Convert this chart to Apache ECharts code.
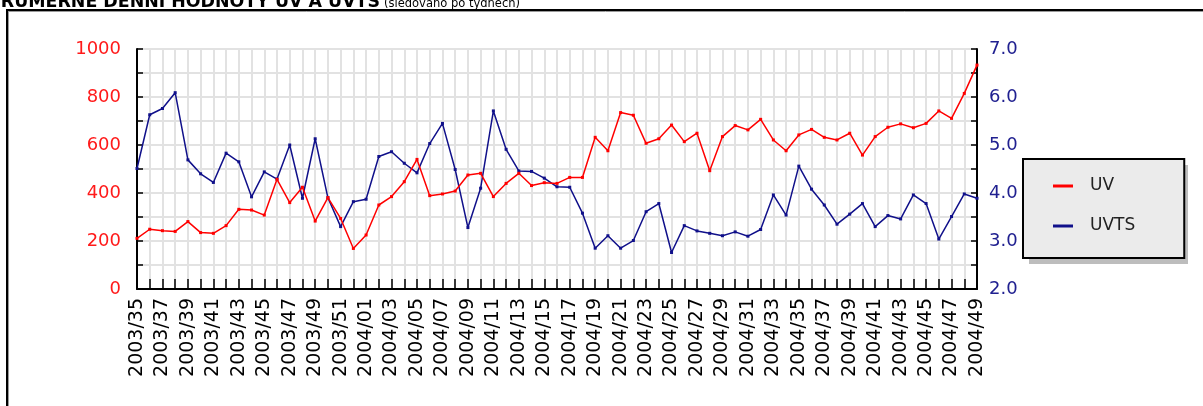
<!DOCTYPE html>
<html>
<head>
<meta charset="utf-8">
<script src="https://cdn.jsdelivr.net/npm/echarts@6/dist/echarts.min.js"></script>
<style>
  html, body { margin: 0; padding: 0; background: #fff; }
  #chart { width: 1203px; height: 406px; }
</style>
</head>
<body>
<div id="chart"></div>
<script>
// tydny (kategorie osy x)
var weeks = [
    '2003/35', '2003/36', '2003/37', '2003/38', '2003/39', '2003/40', '2003/41', '2003/42', '2003/43',
    '2003/44', '2003/45', '2003/46', '2003/47', '2003/48', '2003/49', '2003/50', '2003/51', '2003/52',
    '2004/01', '2004/02', '2004/03', '2004/04', '2004/05', '2004/06', '2004/07', '2004/08', '2004/09',
    '2004/10', '2004/11', '2004/12', '2004/13', '2004/14', '2004/15', '2004/16', '2004/17', '2004/18',
    '2004/19', '2004/20', '2004/21', '2004/22', '2004/23', '2004/24', '2004/25', '2004/26', '2004/27',
    '2004/28', '2004/29', '2004/30', '2004/31', '2004/32', '2004/33', '2004/34', '2004/35', '2004/36',
    '2004/37', '2004/38', '2004/39', '2004/40', '2004/41', '2004/42', '2004/43', '2004/44', '2004/45',
    '2004/46', '2004/47', '2004/48', '2004/49'
];

// UV - leva osa
var uv = [
    211, 249, 243, 240, 281, 235, 232, 264, 332, 329, 308, 457, 360, 424, 283, 381, 294, 169,
    225, 350, 385, 447, 540, 389, 396, 408, 475, 482, 385, 440, 482, 431, 443, 440, 465, 465,
    632, 576, 735, 724, 607, 626, 683, 614, 649, 493, 635, 681, 663, 707, 621, 576, 642, 665,
    632, 621, 649, 558, 635, 674, 688, 672, 690, 742, 711, 815, 933
];

// UVTS - prava osa
var uvts = [
    4.51, 5.63, 5.76, 6.09, 4.69, 4.40, 4.22, 4.83, 4.65, 3.92, 4.44, 4.29, 5.00, 3.89, 5.13, 3.90, 3.30, 3.82,
    3.87, 4.76, 4.86, 4.62, 4.42, 5.03, 5.45, 4.49, 3.28, 4.10, 5.71, 4.91, 4.46, 4.45, 4.31, 4.13, 4.12, 3.58,
    2.85, 3.11, 2.85, 3.01, 3.61, 3.78, 2.76, 3.32, 3.21, 3.16, 3.11, 3.19, 3.10, 3.24, 3.96, 3.54, 4.56, 4.08,
    3.75, 3.35, 3.56, 3.78, 3.30, 3.53, 3.46, 3.96, 3.78, 3.04, 3.51, 3.98, 3.89
];

var seriesNames = ['UV', 'UVTS'];
var FONT = 'DejaVu Sans';
var gridColor = '#e2e2e2';

var chart = echarts.init(document.getElementById('chart'));

var option = {
    animation: false,
    backgroundColor: '#ffffff',
    graphic: [
        // nadpis (horni cast je odriznuta)
        {
            type: 'text', x: -12, y: 11, z: 10,
            style: { text: 'PRŮMĚRNÉ DENNÍ HODNOTY UV A UVTS', fontSize: 17.4, fontWeight: 'bold',
                     fontFamily: FONT, fill: '#000', verticalAlign: 'bottom' }
        },
        {
            type: 'text', x: 384, y: 10, z: 10,
            style: { text: '(sledováno po týdnech)', fontSize: 11.5, fontFamily: FONT,
                     fill: '#000', verticalAlign: 'bottom' }
        },
        // ramecek
        { type: 'line', shape: { x1: 6, y1: 10, x2: 1203, y2: 10 }, style: { stroke: '#000', lineWidth: 2 } },
        { type: 'line', shape: { x1: 8, y1: 11.5, x2: 1203, y2: 11.5 }, style: { stroke: '#9a9a9a', lineWidth: 1 } },
        { type: 'line', shape: { x1: 7, y1: 9, x2: 7, y2: 406 }, style: { stroke: '#000', lineWidth: 2 } },
        { type: 'line', shape: { x1: 8.5, y1: 11, x2: 8.5, y2: 406 }, style: { stroke: '#9a9a9a', lineWidth: 1 } },
        // stin legendy
        { type: 'rect', z: 1, shape: { x: 1029, y: 165, width: 159, height: 99 }, style: { fill: '#bdbdbd' } }
    ],
    legend: {
        orient: 'vertical',
        left: 1023,
        top: 159,
        padding: [17, 49, 22, 30],
        itemGap: 20,
        itemWidth: 20,
        itemHeight: 3,
        icon: 'rect',
        backgroundColor: '#ebebeb',
        borderColor: '#000',
        borderWidth: 2,
        z: 5,
        textStyle: { fontSize: 17, fontFamily: FONT, color: '#222', lineHeight: 20, padding: [0, 0, 0, 12] },
        data: seriesNames
    },
    grid: { left: 137, right: 226, top: 49, bottom: 117 },
    xAxis: {
        type: 'category',
        data: weeks,
        boundaryGap: false,
        axisLine: { lineStyle: { color: '#000', width: 2 } },
        axisTick: { show: true, inside: true, length: 10, interval: 0, lineStyle: { color: '#000', width: 1.5 } },
        axisLabel: { interval: 1, rotate: 90, color: '#000', fontSize: 19, fontFamily: FONT, margin: 9 },
        splitLine: { show: true, interval: 0, lineStyle: { color: gridColor, width: 2 } }
    },
    yAxis: [
        {
            type: 'value',
            min: 0,
            max: 1000,
            interval: 100,
            position: 'left',
            axisLine: { show: true, lineStyle: { color: '#000', width: 2 } },
            axisTick: { show: true, inside: true, length: 6, lineStyle: { color: '#000', width: 1.5 } },
            axisLabel: {
                color: '#ff1a1a', fontSize: 18, fontFamily: FONT, margin: 16,
                formatter: function (v) { return v % 200 === 0 ? String(v) : ''; }
            },
            splitLine: { show: true, lineStyle: { color: gridColor, width: 2 } }
        },
        {
            type: 'value',
            min: 2,
            max: 7,
            interval: 0.5,
            position: 'right',
            axisLine: { show: true, lineStyle: { color: '#000', width: 2 } },
            axisTick: { show: true, inside: true, length: 6, lineStyle: { color: '#000', width: 1.5 } },
            axisLabel: {
                color: '#202090', fontSize: 18, fontFamily: FONT, margin: 12,
                formatter: function (v) { return Math.abs(v - Math.round(v)) < 1e-6 ? v.toFixed(1) : ''; }
            },
            splitLine: { show: false }
        }
    ],
    series: [
        {
            name: seriesNames[0],
            type: 'line',
            yAxisIndex: 0,
            data: uv,
            symbol: 'rect',
            symbolSize: 3,
            lineStyle: { color: '#ff0000', width: 1.5 },
            itemStyle: { color: '#ff0000' },
            z: 4
        },
        {
            name: seriesNames[1],
            type: 'line',
            yAxisIndex: 1,
            data: uvts,
            symbol: 'rect',
            symbolSize: 3,
            lineStyle: { color: '#10108a', width: 1.5 },
            itemStyle: { color: '#10108a' },
            z: 3
        }
    ]
};

chart.setOption(option);
</script>
</body>
</html>
